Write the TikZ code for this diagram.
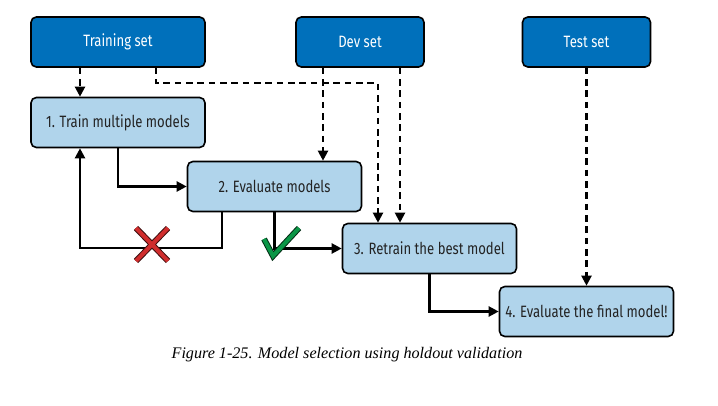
\documentclass[tikz,border=0pt]{standalone}
\usepackage{fontspec}
\setmainfont{Liberation Serif}
\setsansfont{Fira Sans}[FakeStretch=0.8]
\usetikzlibrary{arrows.meta}

\definecolor{setblue}{RGB}{0,112,187}
\definecolor{stepblue}{RGB}{176,212,235}
\definecolor{steptext}{RGB}{35,35,35}
\definecolor{nored}{RGB}{208,45,45}
\definecolor{okgreen}{RGB}{10,150,70}

\tikzset{every picture/.style={line width=1.5pt}}

\begin{document}
\begin{tikzpicture}[x=0.75pt,y=0.75pt,yscale=-1,xscale=1,
	databox/.style={draw=black, fill=setblue, rounded corners=4pt, minimum width=130.5pt, minimum height=37.5pt, text=white, font=\sffamily\fontsize{12.3}{14}\selectfont, line width=1.2pt},
	stepbox/.style={databox, fill=stepblue, text=steptext},
	flow/.style={-{Triangle[length=7.5pt,width=7.5pt]}, line width=1.6pt},
	dataflow/.style={flow, dash pattern=on 5pt off 3.5pt}]
	\useasboundingbox (0,0) rectangle (718,406);

	% Data sets
	\node[databox] (train) at (118,42) {Training set};
	\node[databox, minimum width=96pt] (dev) at (360,42) {Dev set};
	\node[databox, minimum width=96pt] (test) at (586.5,42) {Test set};

	% Steps
	\node[stepbox] (fit) at (118,122.5) {1. Train multiple models};
	\node[stepbox] (eval) at (274.5,186.5) {2. Evaluate models};
	\node[stepbox] (retrain) at (429.5,248.5) {3. Retrain the best model};
	\node[stepbox] (final) at (586.5,311.5) {4. Evaluate the final model!};

	% Dashed data arrows
	\draw[dataflow] (train.south -| 80,0) -- (fit.north -| 80,0);
	\draw[dataflow] (train.south -| 156,0) |- (378,83) -- (retrain.north -| 378,0);
	\draw[dataflow] (dev.south -| 323,0) -- (eval.north -| 323,0);
	\draw[dataflow] (dev.south -| 400,0) -- (retrain.north -| 400,0);
	\draw[dataflow] (test.south) -- (final.north);

	% Solid flow arrows
	\draw[flow] (fit.south) |- (eval.west);
	\draw[flow] (eval.south -| 222,0) |- (80,248) -- (fit.south -| 80,0);
	\draw[flow] (eval.south) |- (retrain.west);
	\draw[flow] (retrain.south) |- (final.west);

	% Cross
	\draw[line width=4.5pt, black!70!nored] (136,228) -- (168,261) (168,228) -- (136,261);
	\draw[line width=3pt, nored] (136,228) -- (168,261) (168,228) -- (136,261);
	% Check
	\draw[line width=4.5pt, black!70!okgreen, line join=miter] (264,239) -- (273,256) -- (299,228);
	\draw[line width=3pt, okgreen, line join=miter] (264,239) -- (273,256) -- (299,228);

	% Caption
	\node[font=\itshape\fontsize{12.1}{14}\selectfont] (caption) at (347,355) {Figure 1-25. Model selection using holdout validation};

\end{tikzpicture}
\end{document}
